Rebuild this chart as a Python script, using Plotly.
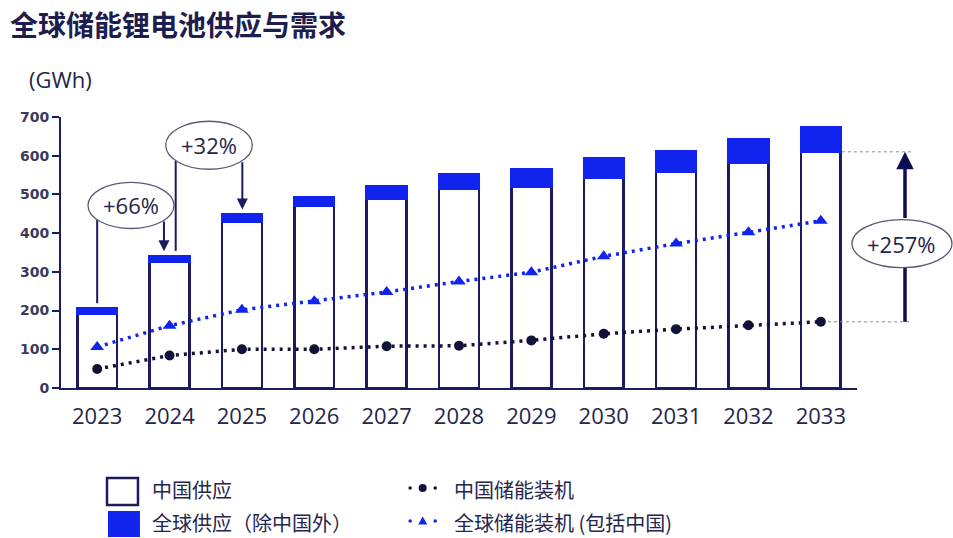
import plotly.graph_objects as go

# ---- data (GWh) ----
years = ["2023", "2024", "2025", "2026", "2027", "2028", "2029", "2030", "2031", "2032", "2033"]
china_supply = [192, 325, 430, 470, 490, 515, 520, 543, 558, 582, 610]
global_ex_china_supply = [13, 15, 18, 23, 31, 36, 44, 50, 54, 60, 64]
china_installed = [49, 84, 100, 100, 108, 109, 123, 140, 152, 162, 171]
global_installed = [106, 161, 202, 224, 248, 275, 299, 340, 373, 402, 432]

y_ticks = [0, 100, 200, 300, 400, 500, 600, 700]

NAVY = "#1c1b5e"
DARK = "#121238"
BLUE = "#1024ee"
TEXT = "#25254d"
GREY_LINE = "#5a5a78"

x = list(range(len(years)))
total_supply = [a + b for a, b in zip(china_supply, global_ex_china_supply)]

fig = go.Figure()

fig.add_trace(go.Bar(
    x=x, y=china_supply, name="中国供应", width=0.55,
    marker=dict(color="white", line=dict(color=NAVY, width=2.5)),
))
fig.add_trace(go.Bar(
    x=x, y=global_ex_china_supply, name="全球供应（除中国外）", width=0.55,
    marker=dict(color=BLUE, line=dict(color=BLUE, width=2.5)),
))
fig.add_trace(go.Scatter(
    x=x, y=china_installed, name="中国储能装机", mode="lines+markers",
    line=dict(color=DARK, width=3.5, dash="3px,5px"),
    marker=dict(symbol="circle", size=10, color=DARK),
))
fig.add_trace(go.Scatter(
    x=x, y=global_installed, name="全球储能装机 (包括中国)", mode="lines+markers",
    line=dict(color=BLUE, width=3.5, dash="3px,5px"),
    marker=dict(symbol="triangle-up", size=12, color=BLUE),
))


def growth_label(new, old):
    return "+{:d}%".format(round((new / old - 1) * 100))


shapes = []
annotations = []

# growth callouts between consecutive years
callouts = [
    # (from idx, to idx, ellipse box (x0, x1, y0, y1), line x, arrow x, joint y)
    (0, 1, (-0.127, 1.062, 412, 531), 0.0, 0.923, 434),
    (1, 2, (0.947, 2.144, 565, 689), 1.085, 2.006, 587),
]
for i0, i1, (ex0, ex1, ey0, ey1), lx, ax_, jy in callouts:
    shapes.append(dict(type="line", xref="x", yref="y", x0=lx, x1=lx,
                       y0=total_supply[i0] + 14, y1=jy,
                       line=dict(color=NAVY, width=2)))
    shapes.append(dict(type="circle", xref="x", yref="y", x0=ex0, x1=ex1, y0=ey0, y1=ey1,
                       fillcolor="white", line=dict(color=GREY_LINE, width=1.3)))
    annotations.append(dict(xref="x", yref="y", x=(ex0 + ex1) / 2, y=(ey0 + ey1) / 2,
                            xanchor="center", yanchor="middle",
                            text=growth_label(total_supply[i1], total_supply[i0]),
                            showarrow=False,
                            font=dict(family="Open Sans", size=22, color=TEXT)))
    annotations.append(dict(xref="x", yref="y", x=ax_, y=total_supply[i1] + 13,
                            axref="x", ayref="y", ax=ax_, ay=jy, text="",
                            showarrow=True, arrowhead=2, arrowsize=1.1, arrowwidth=2,
                            arrowcolor=NAVY))

# overall China supply vs China installations in the final year
ell = (0.9937, 1.1193, 311, 435)
arrow_xp = 1.0603
shapes += [
    dict(type="line", xref="paper", yref="y", x0=0.981, x1=1.069,
         y0=china_supply[-1], y1=china_supply[-1],
         line=dict(color="#8a8a99", width=1, dash="3px,3px")),
    dict(type="line", xref="paper", yref="y", x0=0.9636, x1=1.069,
         y0=china_installed[-1], y1=china_installed[-1],
         line=dict(color="#8a8a99", width=1, dash="3px,3px")),
    dict(type="line", xref="paper", yref="y", x0=arrow_xp, x1=arrow_xp,
         y0=china_installed[-1], y1=ell[2],
         line=dict(color="#0d0d52", width=3.5)),
    dict(type="circle", xref="paper", yref="y", x0=ell[0], x1=ell[1], y0=ell[2], y1=ell[3],
         fillcolor="white", line=dict(color=GREY_LINE, width=1.3)),
]
annotations.append(dict(xref="paper", yref="y", x=arrow_xp, y=china_supply[-1],
                        axref="pixel", ayref="y", ax=0, ay=ell[3], text="",
                        showarrow=True, arrowhead=2, arrowsize=1.0, arrowwidth=3.5,
                        arrowcolor="#0d0d52"))
annotations.append(dict(xref="paper", yref="y", x=(ell[0] + ell[1]) / 2, y=(ell[2] + ell[3]) / 2,
                        xanchor="center", yanchor="middle",
                        text=growth_label(china_supply[-1], china_installed[-1]),
                        showarrow=False,
                        font=dict(family="Open Sans", size=22, color=TEXT)))

# unit label
annotations.append(dict(xref="paper", yref="paper", x=-0.043, y=1.14, xanchor="left",
                        yanchor="middle", text="(GWh)", showarrow=False,
                        font=dict(family="Open Sans", size=22, color=TEXT)))

# legend, two columns
legend_font = dict(family="Noto Sans CJK SC", size=20, color=TEXT)
row1, row2 = -0.369, -0.491
shapes += [
    dict(type="rect", xref="paper", yref="paper", x0=0.0578, x1=0.0967, y0=-0.4317, y1=-0.332,
         fillcolor="white", line=dict(color=NAVY, width=2.5)),
    dict(type="rect", xref="paper", yref="paper", x0=0.059, x1=0.0992, y0=-0.55, y1=-0.454,
         fillcolor=BLUE, line=dict(width=0)),
]


def px_circle(xp, yp, d, color):
    return dict(type="circle", xref="paper", yref="paper", xsizemode="pixel", ysizemode="pixel",
                xanchor=xp, yanchor=yp, x0=-d / 2, x1=d / 2, y0=-d / 2, y1=d / 2,
                fillcolor=color, line=dict(width=0))


sym_x = [0.4386, 0.4544, 0.4701]  # left dot, centre symbol, right dot
for yp, color in ((row1, DARK), (row2, BLUE)):
    shapes.append(px_circle(sym_x[0], yp, 3.5, color))
    shapes.append(px_circle(sym_x[2], yp, 3.5, color))
shapes.append(px_circle(sym_x[1], row1, 8, DARK))
shapes.append(dict(type="path", xref="paper", yref="paper", xsizemode="pixel", ysizemode="pixel",
                   xanchor=sym_x[1], yanchor=row2, path="M -4.5,-3.5 L 4.5,-3.5 L 0,4.5 Z",
                   fillcolor=BLUE, line=dict(width=0)))

annotations += [
    dict(xref="paper", yref="paper", x=0.1118, y=-0.376, xanchor="left", yanchor="middle",
         text=fig.data[0].name, showarrow=False, font=legend_font),
    dict(xref="paper", yref="paper", x=0.1118, y=-0.498, xanchor="left", yanchor="middle",
         text=fig.data[1].name, showarrow=False, font=legend_font),
    dict(xref="paper", yref="paper", x=0.4912, y=-0.376, xanchor="left", yanchor="middle",
         text=fig.data[2].name, showarrow=False, font=legend_font),
    dict(xref="paper", yref="paper", x=0.4912, y=-0.498, xanchor="left", yanchor="middle",
         text=fig.data[3].name, showarrow=False, font=legend_font),
]

fig.update_layout(
    width=953, height=538,
    margin=dict(l=61, r=96, t=117, b=150),
    paper_bgcolor="white", plot_bgcolor="white",
    barmode="stack", showlegend=False,
    title=dict(text="全球储能锂电池供应与需求", xref="container", yref="container",
               x=0.0105, xanchor="left", y=1 - 26 / 538, yanchor="middle",
               font=dict(family="Noto Sans CJK SC", size=28, color="#1e1e4e", weight="bold")),
    xaxis=dict(range=[-0.5, 10.5], tickvals=x, ticktext=years, showgrid=False, zeroline=False,
               showline=True, linecolor=NAVY, linewidth=2, ticks="",
               tickfont=dict(family="Open Sans", size=22, color=TEXT), ticklabelstandoff=8),
    yaxis=dict(range=[0, 700], tickvals=y_ticks, showgrid=False, zeroline=False,
               showline=True, linecolor=NAVY, linewidth=2, ticks="outside", ticklen=7,
               tickwidth=1.5, tickcolor=NAVY,
               tickfont=dict(family="DejaVu Sans", size=14, color="#3a3a5c", weight="bold")),
    shapes=shapes, annotations=annotations,
)

fig.write_html("out.html")
